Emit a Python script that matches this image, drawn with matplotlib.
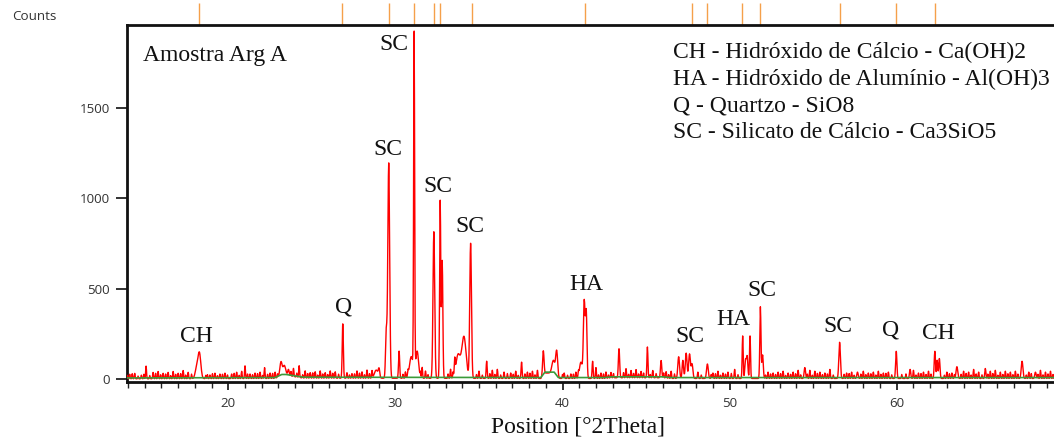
import numpy as np
import matplotlib
matplotlib.use("Agg")
import matplotlib.pyplot as plt

# ---- diffraction data (counts vs. position in degrees 2-theta) ----
peak_pos = [18.10, 18.27, 23.15, 23.35, 23.60, 26.85, 28.85, 29.02, 29.45, 29.60,
            30.22, 30.95, 31.12, 31.30, 32.30, 32.68, 32.80, 33.75, 34.10, 34.50,
            35.46, 37.55, 38.85, 39.45, 39.65, 41.10, 41.30, 41.42, 41.80, 43.38,
            45.08, 45.90, 46.95, 47.20, 47.40, 47.60, 47.75, 48.67, 50.78, 50.95,
            51.05, 51.22, 51.84, 51.97, 54.50, 56.58, 57.65, 59.97, 60.80, 62.28,
            62.42, 62.55, 63.60, 65.30, 67.50, 68.30]
peak_counts = [55, 140, 75, 55, 35, 300, 45, 45, 250, 1190,
               150, 120, 1870, 150, 810, 980, 650, 130, 230, 745,
               95, 90, 135, 70, 140, 90, 425, 360, 95, 160,
               170, 95, 120, 100, 140, 135, 80, 80, 235, 100,
               120, 235, 395, 130, 60, 200, 35, 150, 50, 150,
               100, 110, 65, 55, 95, 35]
peak_fwhm = [0.20, 0.20, 0.15, 0.20, 0.10, 0.08, 0.25, 0.10, 0.10, 0.13,
             0.08, 0.25, 0.07, 0.20, 0.12, 0.08, 0.09, 0.30, 0.30, 0.12,
             0.07, 0.07, 0.10, 0.20, 0.14, 0.20, 0.12, 0.10, 0.07, 0.09,
             0.07, 0.09, 0.12, 0.10, 0.12, 0.12, 0.12, 0.12, 0.07, 0.10,
             0.10, 0.07, 0.08, 0.10, 0.10, 0.11, 0.10, 0.09, 0.09, 0.09,
             0.08, 0.09, 0.12, 0.08, 0.12, 0.10]

# small reflections along the baseline
minor_pos = [14.1, 14.4, 14.8, 15.08, 15.5, 15.8, 16.1, 16.4, 16.7, 17.0, 17.3, 17.6,
             18.9, 19.2, 19.5, 19.8, 20.2, 20.5, 20.8, 21.0, 21.3, 21.6, 21.9, 22.17,
             22.5, 22.8, 23.9, 24.24, 24.6, 24.9, 25.2, 25.5, 25.8, 26.1, 26.4, 27.1,
             27.4, 27.7, 28.0, 28.3, 28.6, 30.6, 30.75, 31.6, 31.8, 33.3, 33.55, 35.0,
             35.8, 36.1, 36.5, 36.9, 37.2, 37.9, 38.2, 38.5, 40.1, 40.5, 40.8, 42.0,
             42.3, 42.6, 42.9, 43.8, 44.1, 44.4, 44.7, 45.4, 46.2, 46.5, 48.1, 49.0,
             49.3, 49.6, 49.9, 50.3, 52.3, 52.6, 52.9, 53.2, 53.5, 53.8, 54.1, 54.8,
             55.1, 55.4, 55.7, 56.0, 57.0, 57.3, 58.0, 58.3, 58.6, 58.9, 59.2, 59.5,
             61.0, 61.3, 61.6, 61.9, 63.0, 63.3, 64.0, 64.3, 64.6, 64.9, 65.6, 65.9,
             66.2, 66.5, 66.8, 67.1, 67.9, 68.6, 68.9, 69.2]
minor_counts = [25, 30, 20, 70, 35, 40, 30, 35, 40, 30, 45, 35,
                20, 30, 25, 30, 25, 35, 40, 70, 25, 30, 35, 60,
                30, 35, 45, 65, 40, 30, 35, 40, 30, 40, 35, 30,
                25, 40, 35, 45, 40, 35, 30, 60, 40, 50, 80, 40,
                45, 50, 35, 30, 40, 35, 40, 45, 30, 25, 35, 60,
                30, 35, 30, 50, 40, 45, 35, 40, 35, 40, 35, 30,
                40, 30, 35, 50, 35, 30, 35, 40, 30, 35, 45, 45,
                40, 35, 30, 50, 30, 35, 40, 30, 35, 40, 30, 35,
                45, 30, 35, 40, 35, 30, 40, 35, 50, 35, 40, 45,
                35, 40, 35, 40, 35, 45, 35, 40]

# fine counting fluctuations between the small reflections
fine_pos = [13.95, 14.25, 14.60, 14.95, 15.30, 15.65, 15.95, 16.25, 16.55, 16.85,
            17.15, 17.45, 17.80, 18.65, 18.75, 19.05, 19.35, 19.65, 19.95, 20.35,
            20.65, 21.15, 21.45, 21.75, 22.05, 22.35, 22.65, 22.95, 23.75, 24.10,
            24.45, 24.75, 25.05, 25.35, 25.65, 25.95, 26.25, 26.60, 27.25, 27.55,
            27.85, 28.15, 28.45, 30.45, 31.50, 31.95, 33.15, 33.45, 34.85, 35.20,
            35.65, 35.95, 36.30, 36.70, 37.05, 37.35, 37.75, 38.05, 38.35, 40.00,
            40.30, 40.65, 40.95, 42.15, 42.45, 42.75, 43.05, 43.65, 43.95, 44.25,
            44.55, 44.85, 45.25, 45.60, 46.05, 46.35, 46.70, 48.30, 48.90, 49.15,
            49.45, 49.75, 50.10, 50.50, 52.15, 52.45, 52.75, 53.05, 53.35, 53.65,
            53.95, 54.25, 54.65, 54.95, 55.25, 55.55, 55.85, 56.20, 56.85, 57.15,
            57.45, 57.85, 58.15, 58.45, 58.75, 59.05, 59.35, 59.70, 60.30, 60.55,
            61.15, 61.45, 61.75, 62.05, 62.85, 63.15, 63.45, 63.85, 64.15, 64.45,
            64.75, 65.10, 65.45, 65.75, 66.05, 66.35, 66.65, 66.95, 67.25, 67.75,
            68.05, 68.45, 68.75, 69.05, 69.35]
fine_counts = [20, 28, 15, 25, 18, 30, 22, 26, 17, 24,
               28, 20, 25, 18, 22, 27, 16, 24, 20, 29,
               18, 25, 21, 27, 17, 23, 28, 19, 26, 22,
               18, 25, 29, 17, 23, 20, 27, 22, 18, 24,
               28, 19, 25, 22, 30, 20, 24, 28, 21, 18,
               26, 22, 19, 27, 23, 17, 25, 29, 20, 22,
               18, 24, 27, 20, 25, 17, 23, 28, 19, 24,
               21, 26, 18, 23, 27, 20, 25, 19, 22, 26,
               18, 24, 28, 21, 19, 25, 22, 27, 17, 23,
               26, 20, 24, 18, 28, 21, 25, 19, 23, 27,
               18, 24, 21, 26, 19, 23, 28, 20, 22, 25,
               19, 27, 22, 24, 18, 26, 21, 23, 28, 19,
               25, 20, 24, 27, 18, 22, 26, 21, 24, 19,
               27, 23, 20, 25, 22]

# fitted background (green)
bg_pos = [13.92, 22.8, 23.2, 23.45, 24.5, 38.70, 38.95, 39.50, 39.75, 42.5, 43.0, 46.0, 46.5, 69.41]
bg_counts = [6, 8, 25, 25, 10, 8, 38, 38, 8, 8, 12, 12, 8, 8]

# reference pattern positions (sticks above the frame)
ref_pos = [18.27, 26.81, 29.61, 31.14, 32.31, 32.69, 34.57, 41.34, 47.72, 48.67,
           50.71, 51.84, 56.58, 59.97, 62.28]

# phase labels: (text, 2theta, counts at baseline)
label_text = ["SC", "SC", "SC", "SC", "Q", "CH", "HA", "SC", "HA", "SC", "SC", "Q", "CH"]
label_x = [29.89, 29.53, 32.57, 34.46, 26.88, 18.11, 41.41, 47.65, 50.22, 51.92, 56.50, 59.61, 62.48]
label_y = [1819, 1238, 1035, 814, 370, 206, 492, 206, 298, 459, 261, 243, 219]

legend_lines = ["CH - Hidróxido de Cálcio - Ca(OH)2",
                "HA - Hidróxido de Alumínio - Al(OH)3",
                "Q - Quartzo - SiO8",
                "SC - Silicato de Cálcio - Ca3SiO5"]

# ---- build the measured trace ----
step = 0.02
tt = np.arange(13.92, 69.41, step)
tt = np.union1d(tt, np.array(peak_pos + minor_pos + fine_pos))
background = np.interp(tt, bg_pos, bg_counts)
signal = background - 5.0
k = 4.0 * np.log(2.0)
for p, h, w in zip(peak_pos, peak_counts, peak_fwhm):
    signal += h * np.exp(-k * (tt - p) ** 2 / w ** 2)
for p, h in zip(minor_pos, minor_counts):
    signal += h * np.exp(-k * (tt - p) ** 2 / 0.06 ** 2)
for p, h in zip(fine_pos, fine_counts):
    signal += h * np.exp(-k * (tt - p) ** 2 / 0.05 ** 2)

# ---- figure ----
W, H = 1054, 441
fig = plt.figure(figsize=(W / 100, H / 100), dpi=100)
ax = fig.add_axes([126.7 / W, 1 - 381.5 / H, 1 - 126.7 / W, (381.5 - 25) / H])

ax.plot(tt, signal, color="#ff0000", lw=1.0, zorder=3)
ax.plot(bg_pos, bg_counts, color="#3a9a3a", lw=1.2, zorder=4)

ax.set_xlim(13.92, 69.41)
ax.set_ylim(-13.8, 1957)

ax.set_xticks([20, 30, 40, 50, 60])
ax.set_xticks(np.arange(14, 70, 1), minor=True)
ax.set_yticks([0, 500, 1000, 1500])

for lab in ax.get_xticklabels() + ax.get_yticklabels():
    lab.set_fontfamily("Open Sans")
    lab.set_fontsize(9.6)
    lab.set_color("#333333")

ax.tick_params(axis="both", which="major", direction="out", width=1.3, color="#222222")
ax.tick_params(axis="y", which="major", length=8, pad=4)
ax.tick_params(axis="x", which="major", length=6, pad=5)
ax.tick_params(axis="x", which="minor", length=4, width=1.0, color="#222222")

for side in ("left", "bottom", "top"):
    ax.spines[side].set_linewidth(2.0)
    ax.spines[side].set_color("#111111")
ax.spines["right"].set_visible(False)

# reference sticks above the frame
ax.vlines(ref_pos, 1.0, 1.0 + 22 / 356.5, transform=ax.get_xaxis_transform(),
          colors="#f5a04a", lw=1.0, clip_on=False)

serif = ["Liberation Serif", "DejaVu Serif"]
for t, x, y in zip(label_text, label_x, label_y):
    ax.text(x, y, t, ha="center", va="baseline", fontsize=17, family=serif,
            color="#111111", zorder=5)

fig.text(143 / W, 1 - 61 / H, "Amostra Arg A", ha="left", va="baseline",
         fontsize=17, family=serif, color="#111111")
for i, line in enumerate(legend_lines):
    fig.text(673 / W, 1 - (58 + 26.6 * i) / H, line, ha="left", va="baseline",
             fontsize=17, family=serif, color="#111111")

fig.text(12 / W, 1 - 16 / H, "Counts", ha="left", va="center",
         fontsize=9.6, family="Open Sans", color="#333333")
fig.text(578 / W, 1 - 432 / H, "Position [°2Theta]", ha="center", va="baseline",
         fontsize=17, family=serif, color="#111111")

fig.savefig("out.png", dpi=100)
